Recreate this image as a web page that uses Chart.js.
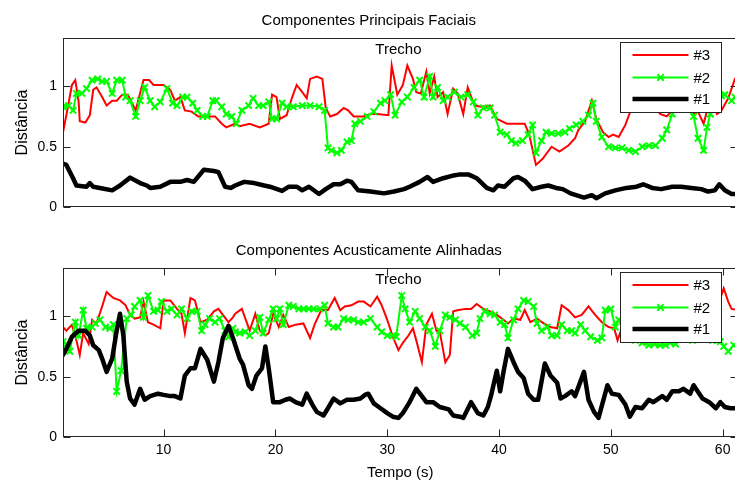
<!DOCTYPE html>
<html>
<head>
<meta charset="utf-8">
<title>Distância por trecho</title>
<script src="https://cdn.jsdelivr.net/npm/chart.js@4.4.1/dist/chart.umd.min.js"></script>
<style>
  html, body { margin: 0; padding: 0; background: #fff; overflow: hidden; width: 735px; height: 484px; }
  canvas { position: absolute; left: 0; }
  #faciais { top: 0; }
  #acusticas { top: 230px; }
</style>
</head>
<body>
<canvas id="faciais" width="745" height="230"></canvas>
<canvas id="acusticas" width="745" height="254"></canvas>
<script>
// eixos
const xTicks = [10, 20, 30, 40, 50, 60];
const yTicks = [0, 0.5, 1];
const xRange = [1, 61.33];
const yRange = [0, 1.4];
const legendLabels = ['#3', '#2', '#1'];
const noteText = 'Trecho';
const noteAt = [31, 1.3];

// Componentes Principais Faciais
const facialT1 = [1,1.3,1.9,2.2,3.1,3.4,3.7,4.3,5.4,6.1,7,7.9,8.5,8.8,9.7,10.6,11.5,12.1,12.7,13.6,14.5,14.9,15.5,16,16.4,17.2,18.1,19,19.5,20.6,21.2,21.9,22.4,23,23.9,24.5,25.2,25.8,26.4,26.8,27.4,28.5,29.7,30.6,31.5,32,32.9,33.6,34.1,35,35.8,36.4,37.3,38,38.9,39.5,39.9,40.5,41.3,41.7,42.3,43,43.8,44.4,45.1,45.7,46.4,47.6,48.3,48.7,49.5,50.4,51.4,52.3,52.9,53.7,54.5,55.5,56.3,57.2,58.1,58.7,59.3,59.7,60.2,60.8,61.4];
const facialV1 = [0.36,0.35,0.24,0.18,0.17,0.2,0.17,0.16,0.14,0.18,0.245,0.2,0.18,0.16,0.17,0.21,0.21,0.225,0.21,0.31,0.3,0.29,0.17,0.16,0.18,0.21,0.2,0.18,0.17,0.135,0.17,0.17,0.14,0.17,0.11,0.15,0.19,0.19,0.22,0.21,0.14,0.13,0.115,0.13,0.15,0.17,0.21,0.25,0.21,0.24,0.26,0.27,0.27,0.24,0.16,0.14,0.18,0.17,0.24,0.25,0.22,0.15,0.17,0.18,0.16,0.15,0.115,0.08,0.1,0.075,0.115,0.14,0.16,0.17,0.19,0.16,0.15,0.17,0.17,0.16,0.15,0.13,0.14,0.19,0.14,0.11,0.11];

const facialT2 = [1,1.5,1.9,2.2,2.7,3.1,3.6,4.1,4.5,4.9,5.4,5.8,6.3,6.6,7,7.5,7.9,8.3,8.8,9.2,9.7,10.3,10.8,11.2,11.7,12.1,12.6,13,13.5,13.9,14.4,14.7,15.2,15.6,16.1,16.5,17,17.6,18,18.5,18.9,19.4,19.7,20.1,20.6,21,21.6,22.4,23.1,23.9,24.4,24.7,25,25.5,25.9,26.4,26.8,27.1,27.6,28.2,28.8,29.4,29.8,30.3,30.7,31.3,31.8,32.4,32.9,33.3,33.8,34.1,34.5,35,35.4,36,36.6,37.2,37.7,38.1,38.6,39.2,39.6,40.1,40.7,41.1,41.5,42.1,42.6,43,43.3,43.8,44.2,44.7,45.3,45.9,46.3,46.9,47.5,48,48.4,48.7,49.2,49.8,50.4,51,51.6,52.2,52.8,53.4,54,54.6,55,55.5,56,56.5,57,57.4,57.8,58.3,58.6,58.9,59.4,59.9,60.2,60.8,61.1,61.4];
const facialV2 = [0.83,0.84,0.8,0.94,0.94,0.98,1.05,1.06,1.04,1.04,0.94,1.05,1.05,0.91,0.88,0.75,0.88,0.99,0.88,0.83,0.87,0.98,0.86,0.84,0.91,0.91,0.86,0.8,0.75,0.75,0.88,0.88,0.83,0.77,0.75,0.69,0.8,0.84,0.9,0.84,0.84,0.87,0.73,0.73,0.86,0.83,0.83,0.84,0.84,0.83,0.8,0.49,0.47,0.45,0.47,0.54,0.55,0.69,0.71,0.75,0.79,0.86,0.88,0.93,0.76,0.87,0.91,0.99,1.05,0.91,1.08,0.91,0.99,0.88,0.91,0.95,0.91,0.93,0.87,0.76,0.82,0.82,0.76,0.62,0.6,0.55,0.53,0.55,0.6,0.68,0.45,0.55,0.62,0.61,0.61,0.62,0.65,0.68,0.71,0.76,0.86,0.71,0.58,0.5,0.49,0.49,0.47,0.46,0.5,0.51,0.51,0.57,0.64,0.77,0.88,0.92,0.86,0.75,0.57,0.47,0.66,0.77,0.88,0.92,0.93,0.88,0.91,0.9];

const facialT3 = [1,1.3,1.8,2.1,2.4,2.5,3,3.4,3.7,4,4.5,4.9,5.4,5.8,6.3,6.8,7.5,8.2,8.7,9.1,10,10.6,11,11.5,11.9,12.5,13.1,13.8,14.6,15.2,15.6,16.4,16.8,17.7,18.6,19.4,19.7,20.1,20.4,21,21.5,21.9,22.4,22.8,23.1,23.7,24.2,24.5,24.9,25.5,26.1,26.5,27,27.9,28.5,29.1,30.1,30.4,30.9,31.4,31.8,32.3,32.6,33,33.5,33.8,34.2,34.5,35,35.4,35.9,36.3,36.8,37.2,37.8,38.4,39.2,39.8,40.7,41.5,42.3,42.7,43.3,43.9,44.7,45.4,46.2,46.8,47.1,47.7,48.3,48.7,49.3,49.8,50.2,50.7,51.3,51.9,52.4,53,53.6,54.1,54.4,55,55.5,56,56.6,57.1,57.4,57.8,58.3,58.7,59.1,59.5,59.9,60.5,61.1,61.4];
const facialV3 = [0.62,0.76,1.01,1.05,0.87,0.71,0.7,0.76,0.97,0.99,0.91,0.84,0.88,0.88,0.93,0.93,0.8,1.05,1.05,1.01,1.01,0.97,0.88,0.91,0.8,0.79,0.75,0.75,0.75,0.69,0.66,0.69,0.67,0.69,0.66,0.69,0.93,0.91,0.73,0.76,0.91,1.01,0.95,0.9,1.06,1.08,1.06,0.82,0.75,0.77,0.82,0.8,0.75,0.75,0.77,0.77,0.76,1.17,0.93,1.01,1.17,1.06,0.95,0.94,1.12,0.94,1.08,0.91,0.95,0.77,0.98,0.94,0.77,0.99,0.84,0.83,0.84,0.73,0.69,0.69,0.69,0.6,0.35,0.4,0.5,0.46,0.51,0.57,0.64,0.71,0.88,0.73,0.62,0.58,0.6,0.58,0.68,0.83,0.95,1,0.92,0.82,0.77,0.75,0.8,0.9,0.95,0.85,0.77,0.79,0.69,0.83,0.86,0.77,0.8,0.9,1.06,1.1];

// Componentes Acusticamente Alinhadas
const acustT1 = [1,1.3,1.8,2.4,3,3.4,3.7,4.2,4.5,4.9,5.4,5.8,6.1,6.4,6.7,7,7.4,7.9,8.3,8.8,9.5,10,10.6,11,11.5,11.9,12.4,12.8,13.3,13.9,14.5,14.9,15.3,15.8,16.2,16.8,17.1,17.6,17.9,18.3,18.8,19.1,19.4,19.8,20.4,20.9,21.3,21.8,22.4,22.8,23.3,23.7,24.3,24.7,25.2,25.8,26.4,27,27.6,28,28.3,28.8,29.4,30,30.5,31,31.4,32,32.6,33.1,33.5,34.1,34.7,35.5,35.9,36.5,36.8,37.5,38.1,38.6,39,39.3,39.8,40.1,40.4,40.8,41.3,41.7,42.2,42.6,43.1,43.5,44.1,44.6,45.2,45.5,45.9,46.5,46.8,47.6,48,48.5,48.9,49.7,50.1,50.7,51.3,51.7,52.2,52.8,53.4,53.8,54.6,55,55.5,56.1,56.5,57.1,57.4,58.2,58.8,59.4,59.8,60.2,60.7,61.4];
const acustV1 = [0.68,0.73,0.83,0.88,0.88,0.84,0.76,0.72,0.65,0.54,0.65,0.88,1.02,0.84,0.46,0.32,0.27,0.4,0.31,0.34,0.36,0.35,0.34,0.34,0.32,0.51,0.57,0.57,0.73,0.64,0.46,0.62,0.82,0.92,0.82,0.65,0.6,0.43,0.4,0.51,0.57,0.75,0.57,0.29,0.29,0.31,0.32,0.29,0.27,0.36,0.27,0.21,0.18,0.24,0.32,0.28,0.31,0.31,0.32,0.35,0.36,0.28,0.24,0.2,0.17,0.16,0.2,0.29,0.4,0.34,0.29,0.29,0.25,0.23,0.18,0.17,0.16,0.29,0.2,0.18,0.25,0.35,0.55,0.38,0.54,0.73,0.62,0.54,0.49,0.36,0.31,0.31,0.61,0.51,0.45,0.32,0.34,0.38,0.34,0.54,0.31,0.21,0.16,0.43,0.36,0.35,0.27,0.17,0.25,0.24,0.31,0.29,0.34,0.31,0.38,0.38,0.4,0.36,0.43,0.32,0.29,0.24,0.29,0.25,0.24,0.24];

const acustT2 = [1,1.3,1.6,2.1,2.4,2.8,3.1,3.6,3.9,4.3,4.8,5.2,5.5,5.8,6.2,6.7,7.1,7.4,7.9,8.2,8.6,9.1,9.5,9.8,10.3,10.7,11.2,11.6,12.1,12.5,13,13.4,13.7,14.1,14.6,15,15.5,15.8,16.2,16.4,16.8,17.3,17.7,18.2,18.6,18.9,19.4,19.8,20.1,20.4,20.7,21.2,21.6,22.1,22.5,23,23.4,24,24.4,24.7,25.2,25.6,26.1,26.5,27,27.4,27.9,28.5,29.1,29.5,30,30.5,30.8,31.3,31.6,32,32.5,32.9,33.4,33.8,34.3,34.7,35.2,35.6,36.1,36.5,37,37.6,38,38.3,38.7,39.2,39.6,40.1,40.5,40.8,41.3,41.7,42.2,42.6,43.1,43.4,43.8,44.3,44.7,45.2,45.6,46.1,46.5,46.8,47.3,47.7,48.2,48.8,49.2,49.5,50,50.4,50.7,51.2,51.7,52.2,52.8,53.4,53.9,54.4,54.9,55.3,55.8,56.3,56.8,57.3,57.8,58.3,58.7,59.1,59.5,59.8,60.1,60.5,61,61.4];
const acustV2 = [0.79,0.77,0.71,0.95,0.84,1.05,0.9,0.91,0.94,0.97,0.91,0.9,0.93,0.38,0.55,0.98,1.01,1.08,1.13,0.99,1.17,1.04,1.05,1.12,1.04,1.06,1.01,1.06,0.98,1.04,1.04,0.88,0.93,0.98,0.95,0.98,0.88,0.83,0.9,0.87,0.86,0.87,0.84,0.88,0.99,0.86,0.97,1.06,0.98,1.06,0.93,1.09,1.08,1.06,1.06,1.06,1.06,1.06,1.09,0.94,0.91,0.91,0.98,0.97,0.97,0.95,0.95,0.98,0.91,0.87,0.84,0.84,0.83,1.17,1.06,0.95,1.04,0.98,0.91,0.88,0.75,0.88,1.01,0.99,0.97,0.94,0.91,0.84,0.86,0.98,1.04,1.02,1.01,0.95,0.93,0.82,0.97,1.06,1.13,1.12,1.08,0.94,0.88,0.91,0.84,0.84,0.93,0.88,0.88,0.86,0.93,0.88,0.83,0.8,0.82,1.05,1.06,0.91,0.97,0.86,0.82,0.8,0.78,0.76,0.77,0.76,0.76,0.78,0.77,0.81,0.83,0.8,0.82,0.84,0.82,0.8,0.8,0.79,0.75,0.71,0.76,0.74];

const acustT3 = [1,1.3,1.8,2.2,2.5,2.8,3.3,3.6,4,4.5,4.9,5.5,6.1,6.6,7,7.4,7.9,8.2,8.6,9.1,9.7,10,10.6,11.2,11.6,11.9,12.4,12.8,13.3,13.9,14.5,14.9,15.3,15.8,16.2,16.4,17,17.7,18.2,18.6,19.1,19.4,19.8,20.3,20.7,21.2,21.8,22.5,23.1,23.5,24.1,24.7,25.3,25.8,26.2,26.8,27.4,27.9,28.5,29.1,29.5,30,30.5,31,31.4,31.9,32.3,32.6,33.1,33.5,34,34.4,34.7,35.2,35.6,35.9,36.4,37,37.5,38,38.6,39.2,39.8,40.4,40.8,41.3,41.9,42.3,42.8,43.4,44,44.6,45.2,45.6,46.2,46.8,47.4,48,48.6,49.2,49.8,50.3,50.6,50.9,51.4,52,52.6,53.2,53.8,54.4,55,55.6,56.2,56.8,57.4,58,58.6,59.2,59.7,60.1,60.5,60.8,61.4];
const acustV3 = [0.91,0.88,0.93,0.8,0.68,0.86,0.77,0.97,0.94,1.08,1.2,1.15,1.13,1.09,1.01,0.98,0.99,1.12,0.95,0.93,0.9,1.13,1.13,1.06,1.02,0.86,1.15,1.13,0.95,0.97,1.04,1.06,1.01,0.95,0.99,1.02,1.06,0.88,1.02,0.88,0.84,0.86,1.02,0.91,1.01,0.91,0.93,0.94,0.82,0.93,1.05,1.05,1.15,1.05,1.08,1.09,1.12,1.12,1.08,1.16,1.09,0.97,0.83,0.72,0.78,0.84,0.9,0.8,0.62,0.93,1.02,0.88,0.87,0.62,0.68,1.04,1.05,1.06,1.06,1.1,1.06,1.04,1.01,0.97,0.94,0.98,0.97,1.05,0.95,0.98,0.94,0.91,0.9,1.09,1.05,0.99,1.01,1.08,1.01,0.95,0.91,0.9,0.8,0.88,0.96,1.02,1.06,1,0.95,0.98,1.04,1,0.96,1.02,1.08,1.04,0.98,1.03,1.12,1.23,1.12,1.06,1.05];

const FONT = '"Liberation Sans", Arial, Helvetica, sans-serif';
Chart.defaults.font.family = FONT;
Chart.defaults.font.size = 14;
Chart.defaults.color = '#000';

const pts = (ts, vs) => ts.map((t, i) => ({ x: t, y: vs[i] }));

function series(t1, v1, t2, v2, t3, v3) {
  return [
    { label: '#1', data: pts(t1, v1), borderColor: '#000000', borderWidth: 4.5,
      borderJoinStyle: 'round', borderCapStyle: 'round', pointRadius: 0 },
    { label: '#2', data: pts(t2, v2), borderColor: '#00ff00', borderWidth: 2,
      pointStyle: 'crossRot', pointRadius: 4.5, pointBorderWidth: 2,
      pointBorderColor: '#00ff00', pointBackgroundColor: '#00ff00' },
    { label: '#3', data: pts(t3, v3), borderColor: '#ff0000', borderWidth: 2, pointRadius: 0 }
  ];
}

// moldura, ticks para dentro, texto "Trecho" e legenda dentro do eixo
const axesBox = {
  id: 'axesBox',
  afterDatasetsDraw(chart, args, opts) {
    const { ctx, chartArea: a, scales: { x, y } } = chart;
    const L = Math.round(a.left) + 0.5, R = Math.round(a.right) - 0.5;
    const T = Math.round(a.top) + 0.5, B = Math.round(a.bottom) - 0.5;
    ctx.save();
    ctx.strokeStyle = '#262626';
    ctx.lineWidth = 1;
    ctx.strokeRect(L, T, R - L, B - T);
    ctx.beginPath();
    yTicks.forEach(v => {
      const py = Math.round(y.getPixelForValue(v)) + 0.5;
      ctx.moveTo(L, py); ctx.lineTo(L + 7, py);
      ctx.moveTo(R, py); ctx.lineTo(R - 7, py);
    });
    if (opts.xTicks) {
      xTicks.forEach(v => {
        const px = Math.round(x.getPixelForValue(v)) + 0.5;
        ctx.moveTo(px, T); ctx.lineTo(px, T + 7);
        ctx.moveTo(px, B); ctx.lineTo(px, B - 7);
      });
    }
    ctx.stroke();

    ctx.fillStyle = '#000';
    ctx.font = '15px ' + FONT;
    ctx.textAlign = 'center';
    ctx.textBaseline = 'middle';
    ctx.fillText(noteText, x.getPixelForValue(noteAt[0]), y.getPixelForValue(noteAt[1]));

    // legenda
    const bw = 101, bh = 70;
    const bx = Math.round(a.right - 16.5 - bw) + 0.5, by = Math.round(a.top + 4) + 0.5;
    ctx.fillStyle = '#fff';
    ctx.fillRect(bx, by, bw, bh);
    ctx.strokeStyle = '#262626';
    ctx.lineWidth = 1;
    ctx.strokeRect(bx, by, bw, bh);
    const rows = [12.5, 35, 56.5];
    const order = chart.data.datasets.slice().reverse();
    order.forEach((ds, i) => {
      const ly = by + rows[i];
      ctx.strokeStyle = ds.borderColor;
      ctx.lineWidth = ds.borderWidth;
      ctx.beginPath();
      ctx.moveTo(bx + 12, ly); ctx.lineTo(bx + 68, ly);
      ctx.stroke();
      if (ds.pointRadius) {
        Chart.helpers.drawPoint(ctx, { pointStyle: ds.pointStyle, radius: ds.pointRadius,
          borderWidth: ds.pointBorderWidth, rotation: 0 }, bx + 40, ly);
      }
      ctx.fillStyle = '#000';
      ctx.textAlign = 'left';
      ctx.fillText(legendLabels[i], bx + 73, ly + 1);
    });
    ctx.restore();
  }
};

function makeChart(id, title, datasets, bottomAxis) {
  return new Chart(document.getElementById(id), {
    type: 'line',
    data: { datasets },
    plugins: [axesBox],
    options: {
      responsive: false,
      animation: false,
      events: [],
      layout: { padding: { left: 0, right: 7.5, top: 0, bottom: bottomAxis ? 0 : 22.7 } },
      plugins: {
        legend: { display: false },
        tooltip: { enabled: false },
        title: {
          display: true, text: title, color: '#000',
          font: { size: 15, weight: 'normal' },
          padding: { top: 11.4, bottom: 8.3 }
        },
        axesBox: { xTicks: bottomAxis }
      },
      scales: {
        x: {
          type: 'linear', min: xRange[0], max: xRange[1],
          display: bottomAxis,
          afterBuildTicks: s => { s.ticks = xTicks.map(v => ({ value: v })); },
          afterFit: s => { if (bottomAxis) s.height = 46.7; },
          grid: { display: false, drawTicks: false },
          border: { display: false },
          ticks: { padding: 4, color: '#000', maxRotation: 0, font: { size: 14 } },
          title: { display: true, text: 'Tempo (s)', color: '#000', font: { size: 15 }, padding: { top: 0, bottom: 2 } }
        },
        y: {
          min: yRange[0], max: yRange[1],
          afterBuildTicks: s => { s.ticks = yTicks.map(v => ({ value: v })); },
          afterFit: s => { s.width = 63; },
          grid: { display: false, drawTicks: false },
          border: { display: false },
          ticks: { padding: 6, color: '#000', font: { size: 14 }, callback: v => String(v) },
          title: { display: true, text: 'Distância', color: '#000', font: { size: 16 }, padding: { top: 13.3, bottom: 0 } }
        }
      }
    }
  });
}

makeChart('faciais', 'Componentes Principais Faciais',
  series(facialT1, facialV1, facialT2, facialV2, facialT3, facialV3), false);
makeChart('acusticas', 'Componentes Acusticamente Alinhadas',
  series(acustT1, acustV1, acustT2, acustV2, acustT3, acustV3), true);
</script>
</body>
</html>
